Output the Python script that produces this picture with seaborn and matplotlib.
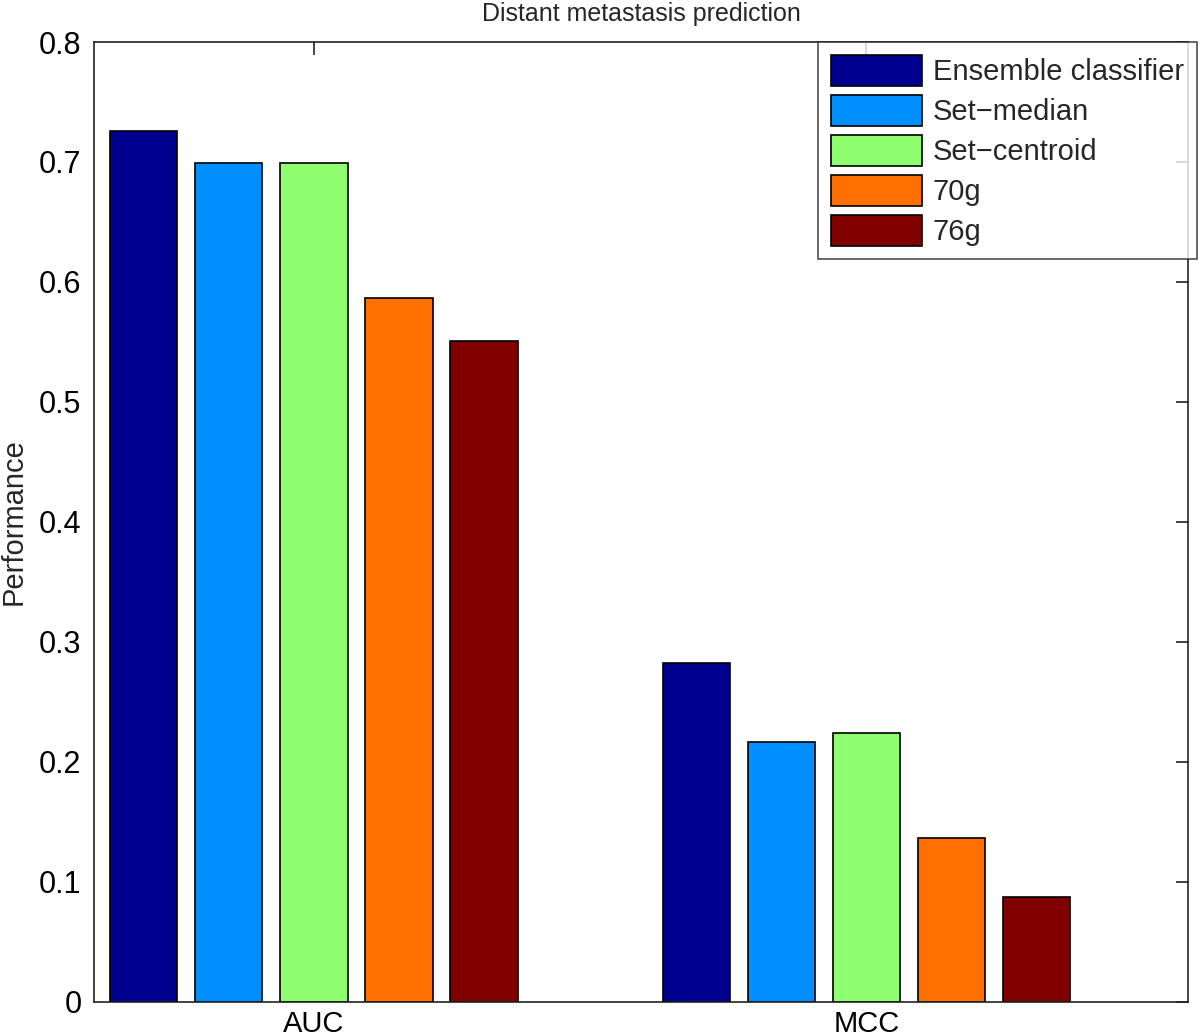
import pandas as pd
import matplotlib
matplotlib.use('Agg')
import matplotlib.pyplot as plt
import seaborn as sns

# Values
metrics = ['AUC', 'MCC']
methods = ['Ensemble classifier', 'Set\u2212median', 'Set\u2212centroid', '70g', '76g']
auc = [0.7256, 0.6992, 0.6992, 0.5866, 0.5508]
mcc = [0.2826, 0.2167, 0.2242, 0.1362, 0.0875]
colors = ['#00008F', '#008FFF', '#8FFF70', '#FF7000', '#800000']

rows = []
for m, a, c in zip(methods, auc, mcc):
    rows.append({'Metric': 'AUC', 'Method': m, 'Performance': a})
    rows.append({'Metric': 'MCC', 'Method': m, 'Performance': c})
data = pd.DataFrame(rows)

sns.set_style('white')
plt.rcParams['font.family'] = ['Liberation Sans', 'DejaVu Sans']

fig = plt.figure(figsize=(12, 10.36), dpi=100)
ax = fig.add_axes([94 / 1200, 1 - 1001.7 / 1036, (1188 - 94) / 1200, (1001.7 - 42) / 1036])

sns.barplot(data=data, x='Metric', y='Performance', hue='Method', order=metrics,
            hue_order=methods, palette=colors, width=0.77, gap=0.21,
            edgecolor='black', linewidth=1.2, saturation=1, ax=ax)

ax.set_xlim(-0.398, 1.582)
ax.set_ylim(0, 0.8)
ax.set_yticks([0, 0.1, 0.2, 0.3, 0.4, 0.5, 0.6, 0.7, 0.8])
ax.set_yticklabels(['0', '0.1', '0.2', '0.3', '0.4', '0.5', '0.6', '0.7', '0.8'])
ax.tick_params(axis='both', direction='in', length=9, width=1.2, labelsize=22,
               top=True, right=True, colors='#222222', labelcolor='black')
ax.tick_params(axis='y', pad=9)
ax.tick_params(axis='x', labelsize=21, pad=6)
for s in ax.spines.values():
    s.set_visible(True)
    s.set_color('#222222')
    s.set_linewidth(1.2)

ax.set_xlabel('')
ax.set_ylabel('Performance', fontsize=21, labelpad=8)
ax.set_title('Distant metastasis prediction', fontsize=18, pad=15)

leg = ax.legend(loc='upper right', bbox_to_anchor=(1.0082, 1.0), fontsize=21,
                frameon=True, fancybox=False, borderpad=0.45, labelspacing=0.3,
                handlelength=3.1, handleheight=1.25, handletextpad=0.38,
                borderaxespad=0)
leg.get_frame().set_edgecolor('#222222')
leg.get_frame().set_linewidth(1.2)

plt.savefig('out.png', dpi=100)
